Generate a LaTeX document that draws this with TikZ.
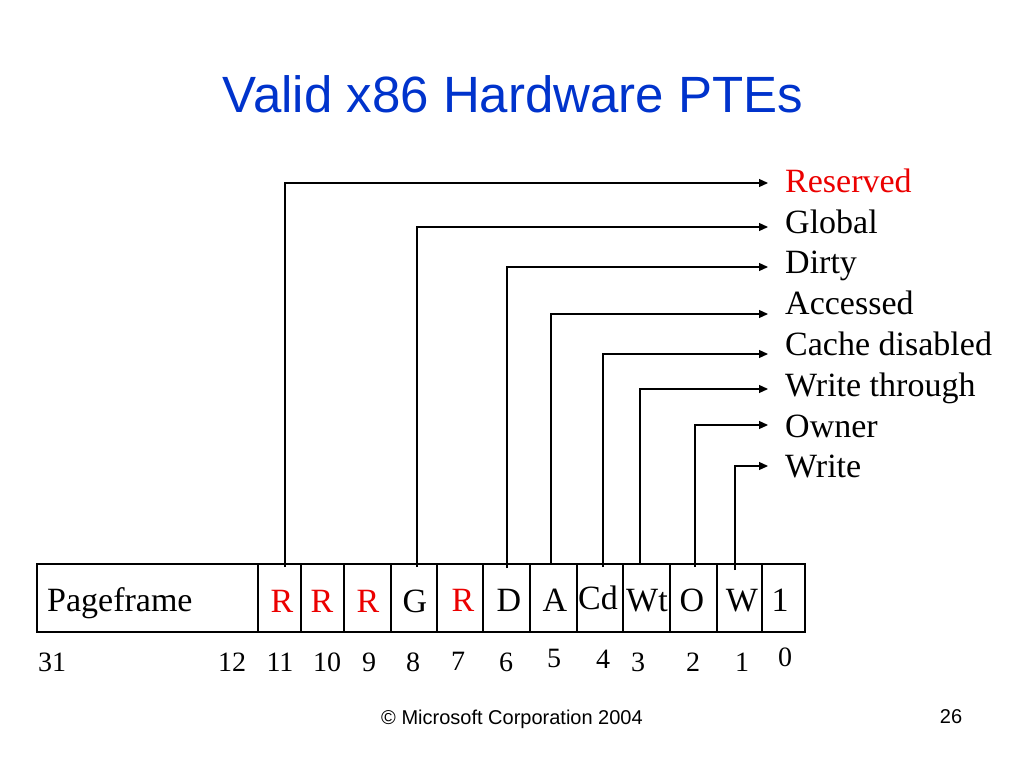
\documentclass[tikz,border=0pt]{standalone}
\usepackage{fontspec}
\setmainfont{Liberation Serif}
\newfontfamily\sansf{Liberation Sans}
\usetikzlibrary{arrows.meta}
\definecolor{ttlblue}{RGB}{0,51,204}
\definecolor{rsvred}{RGB}{235,0,0}
\begin{document}
\begin{tikzpicture}[x=1pt,y=-1pt,
  cellbox/.style={draw, line width=1.1pt, minimum height=68pt, inner sep=0pt, outer sep=0pt},
  celltxt/.style={anchor=base, inner sep=0pt, font=\fontsize{34}{40}\selectfont},
  bitnum/.style={anchor=base, inner sep=0pt, font=\fontsize{28}{32}\selectfont},
  flag/.style={anchor=base west, inner sep=0pt, font=\fontsize{34}{40}\selectfont},
  ptr/.style={line width=1.2pt, -{Triangle[length=9pt,width=8pt]}}]
\useasboundingbox (0,0) rectangle (1024,768);

% title
\node[anchor=base, inner sep=0pt, font=\sansf\fontsize{51}{60}\selectfont, text=ttlblue] (title) at (513,112) {Valid x86 Hardware PTEs};

% register cells
\node[cellbox, minimum width=221pt] (c31) at (147.5,598) {};
\node[cellbox, minimum width=43pt] (c11) at (279.5,598) {};
\node[cellbox, minimum width=43pt] (c10) at (322.5,598) {};
\node[cellbox, minimum width=47pt] (c9) at (367.5,598) {};
\node[cellbox, minimum width=46pt] (c8) at (414,598) {};
\node[cellbox, minimum width=46pt] (c7) at (460,598) {};
\node[cellbox, minimum width=47pt] (c6) at (506.5,598) {};
\node[cellbox, minimum width=47pt] (c5) at (553.5,598) {};
\node[cellbox, minimum width=46pt] (c4) at (600,598) {};
\node[cellbox, minimum width=47pt] (c3) at (646.5,598) {};
\node[cellbox, minimum width=47pt] (c2) at (693.5,598) {};
\node[cellbox, minimum width=45pt] (c1) at (739.5,598) {};
\node[cellbox, minimum width=43pt] (c0) at (783.5,598) {};

% cell texts
\node[celltxt, anchor=base west] (tpf) at (47,611) {Pageframe};
\node[celltxt, text=rsvred] (t11) at (282,612) {R};
\node[celltxt, text=rsvred] (t10) at (322,612) {R};
\node[celltxt, text=rsvred] (t9) at (368,612) {R};
\node[celltxt] (t8) at (415,612) {G};
\node[celltxt, text=rsvred] (t7) at (463,611) {R};
\node[celltxt] (t6) at (509,611) {D};
\node[celltxt] (t5) at (555,611) {A};
\node[celltxt] (t4) at (598,609) {Cd};
\node[celltxt] (t3) at (647,611) {Wt};
\node[celltxt] (t2) at (692,611) {O};
\node[celltxt] (t1) at (742,611) {W};
\node[celltxt] (t0) at (780,611) {1};

% bit numbers
\node[bitnum] (n31) at (52,671) {31};
\node[bitnum] (n12) at (232,671) {12};
\node[bitnum] (n11) at (280,671) {11};
\node[bitnum] (n10) at (327,671) {10};
\node[bitnum] (n9) at (369,671) {9};
\node[bitnum] (n8) at (413,671) {8};
\node[bitnum] (n7) at (458,670) {7};
\node[bitnum] (n6) at (506,671) {6};
\node[bitnum] (n5) at (554,667) {5};
\node[bitnum] (n4) at (603,668) {4};
\node[bitnum] (n3) at (638,671) {3};
\node[bitnum] (n2) at (693,671) {2};
\node[bitnum] (n1) at (742,671) {1};
\node[bitnum] (n0) at (785,666) {0};

% flag labels
\node[flag, text=rsvred] (fR) at (785,192) {Reserved};
\node[flag] (fG) at (785,233) {Global};
\node[flag] (fD) at (785,273) {Dirty};
\node[flag] (fA) at (785,314) {Accessed};
\node[flag] (fCd) at (785,355) {Cache disabled};
\node[flag] (fWt) at (785,396) {Write through};
\node[flag] (fO) at (785,437) {Owner};
\node[flag] (fW) at (785,477) {Write};

% arrow ends
\coordinate (eR) at (768,183);
\coordinate (eG) at (768,227);
\coordinate (eD) at (768,267);
\coordinate (eA) at (768,314);
\coordinate (eCd) at (768,354);
\coordinate (eWt) at (768,389);
\coordinate (eO) at (768,425);
\coordinate (eW) at (768,466);

% connectors
\draw[ptr] ([shift={(5.5,3)}]c11.north) |- (eR);
\draw[ptr] ([shift={(3,3)}]c8.north) |- (eG);
\draw[ptr] ([shift={(0.5,4)}]c6.north) |- (eD);
\draw[ptr] ([shift={(-2.5,0)}]c5.north) |- (eA);
\draw[ptr] ([shift={(3,3)}]c4.north) |- (eCd);
\draw[ptr] ([shift={(-6.5,0)}]c3.north) |- (eWt);
\draw[ptr] ([shift={(1.5,3)}]c2.north) |- (eO);
\draw[ptr] ([shift={(-4.5,6)}]c1.north) |- (eW);

% footer
\node[anchor=base, inner sep=0pt, font=\sansf\fontsize{20}{24}\selectfont] (foot) at (512,724) {© Microsoft Corporation 2004};
\node[anchor=base, inner sep=0pt, font=\sansf\fontsize{20}{24}\selectfont] (page) at (951,723) {26};
\end{tikzpicture}
\end{document}
